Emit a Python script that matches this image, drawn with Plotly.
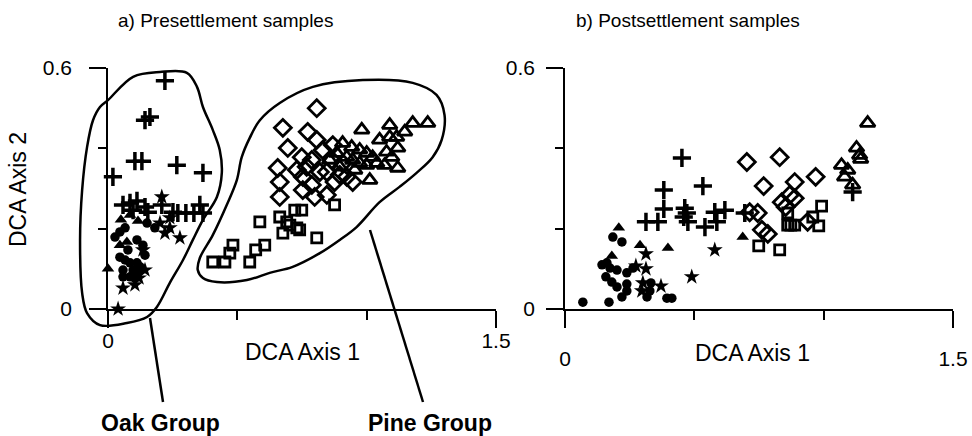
import plotly.graph_objects as go

# ---------------- DATA (DCA axis 1 / axis 2 scores) ----------------
# a) Presettlement samples
PRE_CROSS_X = [0.220, 0.143, 0.162, 0.104, 0.131, 0.266, 0.367, 0.019, 0.058, 0.112, 0.143, 0.154,
               0.208, 0.251, 0.270, 0.301, 0.332, 0.355, 0.367, 0.097, 0.085]
PRE_CROSS_Y = [0.568, 0.470, 0.478, 0.368, 0.368, 0.358, 0.339, 0.329, 0.259, 0.269, 0.254, 0.241,
               0.259, 0.241, 0.239, 0.239, 0.239, 0.259, 0.239, 0.246, 0.264]
PRE_FTRI_X = [0.000, 0.050, 0.116, 0.073, 0.046, 0.085]
PRE_FTRI_Y = [0.100, 0.222, 0.219, 0.167, 0.159, 0.234]
PRE_CIRC_X = [0.027, 0.066, 0.112, 0.135, 0.143, 0.181, 0.151, 0.046, 0.066, 0.085, 0.112, 0.124,
              0.058, 0.097, 0.085, 0.058, 0.104, 0.116, 0.077, 0.046]
PRE_CIRC_Y = [0.179, 0.202, 0.172, 0.159, 0.134, 0.202, 0.214, 0.129, 0.122, 0.115, 0.115, 0.105,
              0.097, 0.097, 0.080, 0.080, 0.077, 0.090, 0.147, 0.192]
PRE_STAR_X = [0.208, 0.201, 0.239, 0.220, 0.278, 0.135, 0.120, 0.104, 0.058, 0.039, 0.239, 0.143]
PRE_STAR_Y = [0.279, 0.214, 0.202, 0.189, 0.177, 0.147, 0.077, 0.060, 0.052, 0.000, 0.227, 0.097]
PRE_SQR_X = [0.405, 0.452, 0.471, 0.483, 0.548, 0.571, 0.606, 0.587, 0.664, 0.676, 0.703, 0.722,
             0.749, 0.730, 0.807, 0.876, 0.691, 0.741]
PRE_SQR_Y = [0.117, 0.117, 0.139, 0.159, 0.117, 0.147, 0.159, 0.217, 0.229, 0.189, 0.209, 0.246,
             0.246, 0.202, 0.177, 0.259, 0.217, 0.197]
PRE_DIA_X = [0.807, 0.676, 0.772, 0.695, 0.807, 0.749, 0.656, 0.664, 0.664, 0.730, 0.753, 0.788,
             0.753, 0.799, 0.846, 0.876, 0.946, 0.830, 0.869, 0.865, 0.907, 0.923, 0.819, 0.846,
             0.768, 0.788, 0.896]
PRE_DIA_Y = [0.500, 0.451, 0.441, 0.401, 0.421, 0.378, 0.351, 0.316, 0.279, 0.346, 0.329, 0.309,
             0.296, 0.279, 0.284, 0.316, 0.316, 0.396, 0.408, 0.371, 0.363, 0.329, 0.341, 0.341,
             0.354, 0.371, 0.334]
PRE_OTRI_X = [0.981, 1.089, 1.178, 1.236, 1.147, 1.089, 1.116, 1.077, 1.120, 1.097, 1.120, 1.012,
              0.907, 0.942, 0.973, 1.000, 1.023, 1.039, 0.923, 0.946, 0.973, 1.000, 0.884, 0.857,
              0.896, 1.050, 1.069, 0.954]
PRE_OTRI_Y = [0.446, 0.458, 0.463, 0.463, 0.441, 0.428, 0.428, 0.391, 0.401, 0.378, 0.351, 0.321,
              0.413, 0.403, 0.396, 0.388, 0.378, 0.363, 0.378, 0.371, 0.363, 0.358, 0.388, 0.371,
              0.354, 0.421, 0.358, 0.346]

# group outlines (same DCA units as panel a)
OAK_OUTLINE_X = [-0.031, 0.000, 0.097, 0.201, 0.305, 0.344, 0.367, 0.405, 0.432, 0.440, 0.421,
                 0.367, 0.328, 0.290, 0.239, 0.189, 0.151, 0.073, -0.031, -0.081, -0.100,
                 -0.108, -0.100, -0.081, -0.058, -0.031]
OAK_OUTLINE_Y = [0.503, 0.520, 0.578, 0.590, 0.588, 0.553, 0.503, 0.446, 0.396, 0.339, 0.279,
                 0.222, 0.172, 0.122, 0.065, 0.005, -0.020, -0.035, -0.040, -0.010, 0.040,
                 0.172, 0.296, 0.403, 0.470, 0.503]
PINE_OUTLINE_X = [0.587, 0.664, 0.792, 0.985, 1.178, 1.270, 1.301, 1.290, 1.255, 1.193, 1.127,
                  1.050, 0.961, 0.896, 0.819, 0.714, 0.625, 0.537, 0.421, 0.367, 0.347, 0.355,
                  0.405, 0.459, 0.498, 0.517, 0.548, 0.587]
PINE_OUTLINE_Y = [0.470, 0.513, 0.553, 0.570, 0.563, 0.533, 0.483, 0.421, 0.378, 0.339, 0.304,
                  0.266, 0.204, 0.172, 0.139, 0.105, 0.090, 0.072, 0.067, 0.077, 0.097, 0.127,
                  0.184, 0.259, 0.321, 0.378, 0.426, 0.470]

# b) Postsettlement samples
POST_CIRC_X = [0.069, 0.170, 0.220, 0.239, 0.317, 0.328, 0.332, 0.394, 0.413, 0.185, 0.220, 0.143,
               0.162, 0.201, 0.158, 0.181, 0.201, 0.239, 0.239, 0.263, 0.174]
POST_CIRC_Y = [0.017, 0.017, 0.030, 0.045, 0.030, 0.045, 0.065, 0.027, 0.027, 0.179, 0.167, 0.110,
               0.115, 0.097, 0.080, 0.067, 0.055, 0.062, 0.090, 0.102, 0.102]
POST_FTRI_X = [0.208, 0.290, 0.398, 0.181, 0.687]
POST_FTRI_Y = [0.202, 0.159, 0.152, 0.132, 0.179]
POST_STAR_X = [0.313, 0.274, 0.313, 0.297, 0.371, 0.490, 0.579, 0.301]
POST_STAR_Y = [0.137, 0.107, 0.100, 0.045, 0.057, 0.080, 0.147, 0.065]
POST_CROSS_X = [0.452, 0.382, 0.533, 0.382, 0.313, 0.359, 0.463, 0.471, 0.475, 0.541, 0.579, 0.618,
                0.587, 0.695, 1.112, 0.459]
POST_CROSS_Y = [0.376, 0.296, 0.306, 0.249, 0.217, 0.217, 0.251, 0.239, 0.217, 0.204, 0.241, 0.246,
                0.217, 0.239, 0.291, 0.229]
POST_DIA_X = [0.703, 0.830, 0.768, 0.888, 0.969, 0.838, 0.888, 0.869, 0.745, 0.761, 0.784, 0.938,
              0.853, 0.714]
POST_DIA_Y = [0.366, 0.378, 0.306, 0.316, 0.329, 0.266, 0.276, 0.284, 0.239, 0.197, 0.187, 0.217,
              0.254, 0.241]
POST_SQR_X = [0.749, 0.830, 0.861, 0.861, 0.888, 0.992, 0.958, 0.981, 0.873]
POST_SQR_Y = [0.157, 0.147, 0.239, 0.209, 0.209, 0.256, 0.229, 0.207, 0.209]
POST_OTRI_X = [1.170, 1.127, 1.139, 1.143, 1.069, 1.081, 1.112, 1.093]
POST_OTRI_Y = [0.463, 0.401, 0.383, 0.373, 0.358, 0.329, 0.309, 0.346]

X_RANGE = [0, 1.5]
Y_RANGE = [0, 0.6]
X_TICKS = [0, 1.5]
X_MINOR = [0.5, 1.0]
Y_TICKS = [0, 0.6]
Y_MINOR = [0.2, 0.4]

# ---------------- LAYOUT GEOMETRY (pixels) ----------------
W, H = 972, 436
FONT = "Liberation Sans, Arial, sans-serif"


def fx(px):
    return px / W


def fy(py):
    return 1 - py / H


def extend(p0, p1, q0, q1, v0, v1):
    """axis range for pixel span p0..p1 given that pixel q0->v0 and q1->v1"""
    s = (v1 - v0) / (q1 - q0)
    return [v0 + (p0 - q0) * s, v0 + (p1 - q0) * s]


# visible axes boxes: (x_left, x_right, y_bottom, y_top)
PANELS = [(108, 496, 309, 68), (565, 953, 309, 68)]
# invisible data areas (larger, so group outlines aren't clipped)
DATA_BOX = [(30, 530, 350, 40), (530, 972, 350, 40)]

fig = go.Figure()

STY = {
    "cross": dict(symbol="cross-thin-open", size=13, color="black", line=dict(width=3.5, color="black")),
    "square": dict(symbol="square-open", size=10, color="black", line=dict(width=2.8, color="black")),
    "diamond": dict(symbol="diamond-open", size=13, color="black", line=dict(width=2.8, color="black")),
    "otri": dict(symbol="triangle-up-open", size=13, color="black", line=dict(width=2.8, color="black")),
    "ftri": dict(symbol="triangle-up", size=11, color="black", line=dict(width=0)),
    "circ": dict(symbol="circle", size=9.5, color="black", line=dict(width=0)),
    "star": dict(symbol="star", size=12, color="black", line=dict(width=0)),
}


def add(xs, ys, kind, panel):
    xa, ya = ("x", "y") if panel == 0 else ("x2", "y2")
    fig.add_trace(go.Scatter(x=xs, y=ys, mode="markers", marker=STY[kind], xaxis=xa, yaxis=ya,
                             showlegend=False, hoverinfo="skip"))


# outlines
fig.add_trace(go.Scatter(x=OAK_OUTLINE_X, y=OAK_OUTLINE_Y, mode="lines",
                         line=dict(color="black", width=2.5, shape="spline", smoothing=1.0),
                         xaxis="x", yaxis="y", showlegend=False, hoverinfo="skip"))
fig.add_trace(go.Scatter(x=PINE_OUTLINE_X, y=PINE_OUTLINE_Y, mode="lines",
                         line=dict(color="black", width=2.5, shape="spline", smoothing=1.0),
                         xaxis="x", yaxis="y", showlegend=False, hoverinfo="skip"))

add(PRE_SQR_X, PRE_SQR_Y, "square", 0)
add(PRE_DIA_X, PRE_DIA_Y, "diamond", 0)
add(PRE_OTRI_X, PRE_OTRI_Y, "otri", 0)
add(PRE_CIRC_X, PRE_CIRC_Y, "circ", 0)
add(PRE_FTRI_X, PRE_FTRI_Y, "ftri", 0)
add(PRE_STAR_X, PRE_STAR_Y, "star", 0)
add(PRE_CROSS_X, PRE_CROSS_Y, "cross", 0)

add(POST_SQR_X, POST_SQR_Y, "square", 1)
add(POST_DIA_X, POST_DIA_Y, "diamond", 1)
add(POST_OTRI_X, POST_OTRI_Y, "otri", 1)
add(POST_CIRC_X, POST_CIRC_Y, "circ", 1)
add(POST_FTRI_X, POST_FTRI_Y, "ftri", 1)
add(POST_STAR_X, POST_STAR_Y, "star", 1)
add(POST_CROSS_X, POST_CROSS_Y, "cross", 1)

# empty traces so the visible axes exist
for xa, ya in (("x3", "y3"), ("x4", "y4")):
    fig.add_trace(go.Scatter(x=[], y=[], xaxis=xa, yaxis=ya, showlegend=False, hoverinfo="skip"))

layout = dict(width=W, height=H, margin=dict(l=0, r=0, t=0, b=0, pad=0, autoexpand=False),
              paper_bgcolor="white", plot_bgcolor="rgba(0,0,0,0)",
              font=dict(family=FONT, color="black"), showlegend=False)

# hidden data axes
for i, (dbox, pbox) in enumerate(zip(DATA_BOX, PANELS)):
    xl, xr, yb, yt = dbox
    pxl, pxr, pyb, pyt = pbox
    xr_ = extend(xl, xr, pxl, pxr, X_RANGE[0], X_RANGE[1])
    yr_ = extend(yb, yt, pyb, pyt, Y_RANGE[0], Y_RANGE[1])
    xn = "xaxis" if i == 0 else "xaxis2"
    yn = "yaxis" if i == 0 else "yaxis2"
    layout[xn] = dict(domain=[fx(xl), fx(xr)], range=xr_, visible=False, showgrid=False,
                      zeroline=False, anchor="y" if i == 0 else "y2")
    layout[yn] = dict(domain=[fy(yb), fy(yt)], range=yr_, visible=False, showgrid=False,
                      zeroline=False, anchor="x" if i == 0 else "x2")

# visible axes
X_STANDOFF = [-5, 13]
Y_STANDOFF = [13, 7]
for i, pbox in enumerate(PANELS):
    pxl, pxr, pyb, pyt = pbox
    xn = "xaxis3" if i == 0 else "xaxis4"
    yn = "yaxis3" if i == 0 else "yaxis4"
    layout[xn] = dict(domain=[fx(pxl), fx(pxr)], range=X_RANGE, anchor="y3" if i == 0 else "y4",
                      showline=True, linecolor="black", linewidth=1.5, showgrid=False, zeroline=False,
                      ticks="outside", ticklen=17, tickwidth=1.5, tickcolor="black",
                      tickmode="array", tickvals=X_TICKS, ticktext=[str(v) for v in X_TICKS],
                      ticklabelstandoff=X_STANDOFF[i],
                      minor=dict(tickmode="array", tickvals=X_MINOR, ticks="outside", ticklen=9,
                                 tickwidth=1.5, tickcolor="black", showgrid=False),
                      tickfont=dict(size=21, family=FONT), fixedrange=True)
    layout[yn] = dict(domain=[fy(pyb), fy(pyt)], range=Y_RANGE, anchor="x3" if i == 0 else "x4",
                      showline=True, linecolor="black", linewidth=1.5, showgrid=False, zeroline=False,
                      ticks="outside", ticklen=17, tickwidth=1.5, tickcolor="black",
                      tickmode="array", tickvals=Y_TICKS, ticktext=["0", "0.6"],
                      ticklabelstandoff=Y_STANDOFF[i],
                      minor=dict(tickmode="array", tickvals=Y_MINOR, ticks="outside", ticklen=8,
                                 tickwidth=1.5, tickcolor="black", showgrid=False),
                      tickfont=dict(size=21, family=FONT), fixedrange=True)

try:
    fig.update_layout(**layout)
except ValueError:
    for k in ("xaxis3", "xaxis4"):
        layout[k]["ticklabelstandoff"] = 0
    fig.update_layout(**layout)

# text
ann = [
    dict(text="a) Presettlement samples", x=fx(225), y=fy(21), size=19),
    dict(text="b) Postsettlement samples", x=fx(688), y=fy(21), size=19),
    dict(text="DCA Axis 1", x=fx(302), y=fy(352), size=23),
    dict(text="DCA Axis 1", x=fx(752), y=fy(353), size=23),
    dict(text="<b>Oak Group</b>", x=fx(160), y=fy(423), size=23),
    dict(text="<b>Pine Group</b>", x=fx(430), y=fy(423), size=23),
]
for a in ann:
    fig.add_annotation(text=a["text"], x=a["x"], y=a["y"], xref="paper", yref="paper",
                       xanchor="center", yanchor="middle", showarrow=False,
                       font=dict(size=a["size"], family=FONT, color="black"))
fig.add_annotation(text="DCA Axis 2", x=fx(18), y=fy(190), xref="paper", yref="paper",
                   xanchor="center", yanchor="middle", showarrow=False, textangle=-90,
                   font=dict(size=23, family=FONT, color="black"))

# pointer lines from the outlines to the group labels
for (x0, y0, x1, y1) in [(150, 318, 163, 402), (370, 230, 423, 402)]:
    fig.add_shape(type="line", xref="paper", yref="paper", x0=fx(x0), y0=fy(y0), x1=fx(x1), y1=fy(y1),
                  line=dict(color="black", width=2.5))

fig.write_html("out.html",
               post_script="document.body.style.margin='0';document.body.style.overflow='hidden';")
